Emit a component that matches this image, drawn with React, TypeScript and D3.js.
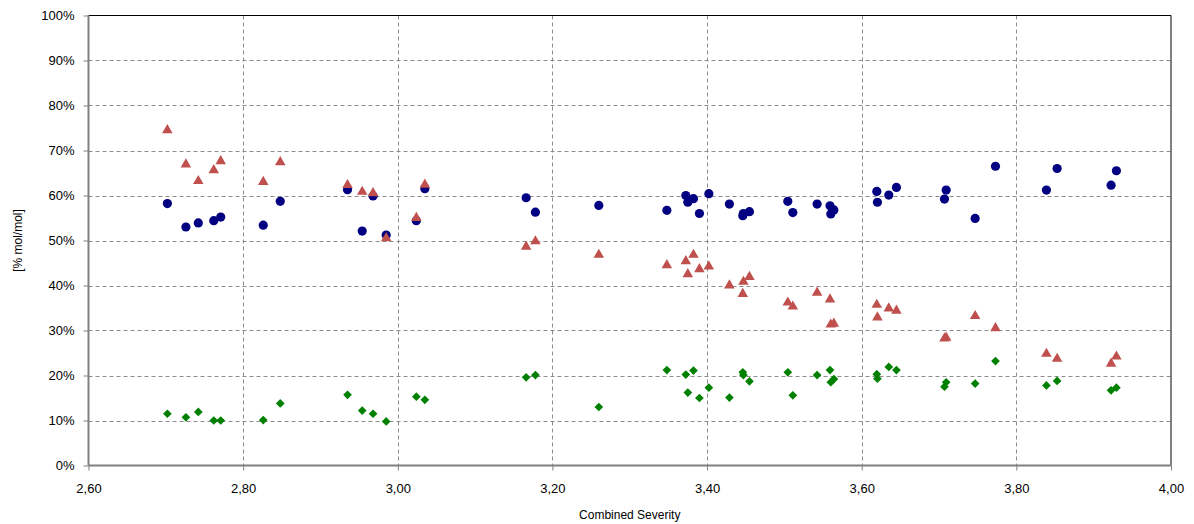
import React, { useEffect, useRef } from "react";
import * as d3 from "d3";

// one x value per sample, three measured fractions per sample
const severity = [
  2.702, 2.726, 2.742, 2.762, 2.771, 2.826, 2.848, 2.935, 2.954, 2.968, 2.985,
  3.024, 3.035, 3.166, 3.178, 3.26, 3.348, 3.3725, 3.3751, 3.3824, 3.3901,
  3.4023, 3.4289, 3.4462, 3.447, 3.4548, 3.5044, 3.5109, 3.5423, 3.559, 3.56,
  3.564, 3.6195, 3.6203, 3.635, 3.6449, 3.707, 3.7092, 3.7467, 3.773, 3.8389,
  3.8527, 3.9225, 3.9294,
];
const blueSeries = [
  58.2, 53.0, 53.9, 54.4, 55.2, 53.4, 58.7, 61.3, 52.1, 59.9, 51.2, 54.4, 61.5,
  59.5, 56.3, 57.8, 56.7, 60.0, 58.5, 59.3, 56.0, 60.4, 58.1, 55.5, 56.0, 56.4,
  58.7, 56.2, 58.1, 57.7, 55.9, 56.8, 60.9, 58.5, 60.1, 61.8, 59.2, 61.2, 54.9,
  66.5, 61.2, 66.0, 62.3, 65.5,
];
const redSeries = [
  74.7, 67.1, 63.4, 65.8, 67.8, 63.2, 67.6, 62.5, 61.0, 60.7, 50.7, 55.2, 62.6,
  48.8, 50.0, 47.0, 44.7, 45.6, 42.7, 47.0, 43.8, 44.4, 40.2, 38.3, 41.0, 42.1,
  36.4, 35.5, 38.6, 37.1, 31.5, 31.7, 35.9, 33.1, 35.1, 34.6, 28.4, 28.6, 33.4,
  30.7, 25.0, 23.9, 22.8, 24.4,
];
const greenSeries = [
  11.5, 10.7, 11.9, 10.0, 10.0, 10.1, 13.8, 15.7, 12.2, 11.5, 9.8, 15.3, 14.6,
  19.6, 20.1, 13.0, 21.2, 20.2, 16.2, 21.1, 15.0, 17.3, 15.1, 20.7, 20.1, 18.7,
  20.7, 15.6, 20.1, 21.2, 18.5, 19.2, 20.3, 19.3, 21.9, 21.2, 17.5, 18.5, 18.2,
  23.2, 17.8, 18.8, 16.7, 17.3,
];
const xTicks = [2.6, 2.8, 3.0, 3.2, 3.4, 3.6, 3.8, 4.0];
const yTicks = [0, 10, 20, 30, 40, 50, 60, 70, 80, 90, 100];

const W = 1194;
const H = 524;

export default function App() {
  const ref = useRef<SVGSVGElement>(null);

  useEffect(() => {
    document.body.style.margin = "0";
    const svg = d3.select(ref.current);
    svg.selectAll("*").remove();

    const left = 88.5;
    const right = 1171;
    const top = 15.5;
    const bottom = 465.5;

    const x = d3.scaleLinear().domain([2.6, 4.0]).range([left, right]);
    const y = d3.scaleLinear().domain([0, 100]).range([bottom, top]);

    const locale = d3.formatLocale({
      decimal: ",",
      thousands: ".",
      grouping: [3],
      currency: ["", ""],
    });
    const fmtX = locale.format(".2f");
    const font = "'Liberation Sans', Arial, sans-serif";

    svg.append("rect").attr("width", W).attr("height", H).attr("fill", "#fff");

    // grid
    const grid = svg.append("g").attr("stroke", "#8c8c8c").attr("stroke-width", 1)
      .attr("stroke-dasharray", "4,3");
    yTicks.slice(1, -1).forEach((t) => {
      grid.append("line").attr("x1", left).attr("x2", right)
        .attr("y1", Math.round(y(t)) + 0.5).attr("y2", Math.round(y(t)) + 0.5);
    });
    xTicks.slice(1, -1).forEach((t) => {
      grid.append("line").attr("y1", top).attr("y2", bottom)
        .attr("x1", Math.round(x(t)) + 0.5).attr("x2", Math.round(x(t)) + 0.5);
    });

    // plot border (top/right)
    svg.append("path")
      .attr("d", `M${left},${top}H${right}V${bottom}`)
      .attr("fill", "none").attr("stroke", "#000").attr("stroke-width", 1);

    // axes
    const yAxis = svg.append("g").attr("transform", `translate(${left},0)`)
      .call(d3.axisLeft(y).tickValues(yTicks).tickSize(5).tickFormat((d) => `${d}%`));
    const xAxis = svg.append("g").attr("transform", `translate(0,${bottom})`)
      .call(d3.axisBottom(x).tickValues(xTicks).tickSize(5).tickFormat((d) => fmtX(d as number)));
    [yAxis, xAxis].forEach((a) => {
      a.select(".domain").attr("stroke", "#808080").attr("stroke-width", 2);
      a.selectAll(".tick line").attr("stroke", "#808080");
      a.selectAll("text").attr("fill", "#000").style("font-family", font).style("font-size", "13px");
    });
    yAxis.select(".domain").attr("d", `M0,${top}V${bottom}`);
    xAxis.select(".domain").attr("d", `M${left},0H${right}`);
    yAxis.selectAll(".tick text").attr("x", -14);
    xAxis.selectAll(".tick text").attr("y", 18);

    svg.append("text")
      .attr("x", (left + right) / 2).attr("y", 519)
      .attr("text-anchor", "middle")
      .style("font-family", font).style("font-size", "12px")
      .text("Combined Severity");
    svg.append("text")
      .attr("transform", `translate(22,${(top + bottom) / 2}) rotate(-90)`)
      .attr("text-anchor", "middle")
      .style("font-family", font).style("font-size", "12px")
      .text("[% mol/mol]");

    // markers
    const pts = svg.append("g");
    pts.selectAll("circle.blue").data(severity).join("circle")
      .attr("class", "blue")
      .attr("cx", (d) => x(d))
      .attr("cy", (d, i) => y(blueSeries[i]))
      .attr("r", 4.6)
      .attr("fill", "#000080");

    const tri = d3.symbol().type(d3.symbolTriangle).size(48);
    pts.selectAll("path.red").data(severity).join("path")
      .attr("class", "red")
      .attr("d", tri)
      .attr("transform", (d, i) => `translate(${x(d)},${y(redSeries[i]) + 0.8})`)
      .attr("fill", "#C0504D");

    const dia = d3.symbol().type(d3.symbolSquare).size(38);
    pts.selectAll("path.green").data(severity).join("path")
      .attr("class", "green")
      .attr("d", dia)
      .attr("transform", (d, i) => `translate(${x(d)},${y(greenSeries[i])}) rotate(45)`)
      .attr("fill", "#008000");
  }, []);

  return <svg ref={ref} width={W} height={H} style={{ display: "block" }} />;
}
